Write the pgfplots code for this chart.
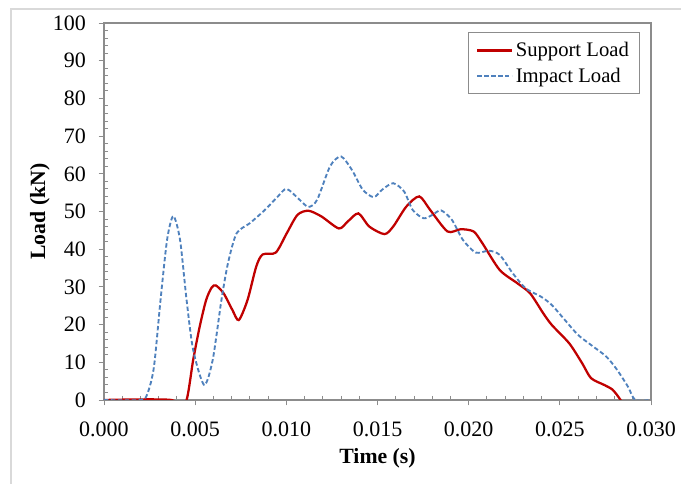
\documentclass[border=0pt]{standalone}
\usepackage{fontspec}
\setmainfont{Liberation Serif}
\usepackage{pgfplots}
\pgfplotsset{compat=1.18}
\definecolor{supp}{HTML}{C00000}
\definecolor{imp}{HTML}{4F81BD}
\definecolor{axgray}{HTML}{8C8C8C}
\definecolor{frame}{HTML}{D9D9D9}
\begin{document}
\begin{tikzpicture}[x=0.75pt,y=0.75pt]
% page = 681 x 484 px, axis origin at px (104,400)
\path[use as bounding box] (-104,-84) rectangle (577,400);
\draw[frame, line width=0.8pt] (-93,-84) -- (-93,391) -- (577,391);
\begin{axis}[
  at={(0,0)}, anchor=origin,
  scale only axis, width=410.25pt, height=282.75pt,
  xmin=0, xmax=0.030, ymin=0, ymax=100,
  xtick={0,0.005,...,0.0301}, ytick={0,10,...,100},
  minor x tick num=4, minor y tick num=4,
  scaled x ticks=false,
  xticklabel style={/pgf/number format/fixed, /pgf/number format/fixed zerofill,
    /pgf/number format/precision=3, yshift=-9pt},
  yticklabel style={xshift=-6pt},
  /pgf/number format/assume math mode=true,
  tick label style={font=\fontsize{16.5}{16.5}\selectfont, text=black},
  tick align=outside, major tick length=4pt, minor tick length=-3pt,
  axis line style={axgray, line width=0.8pt},
  every tick/.style={axgray, line width=0.7pt},
  xtick pos=bottom, ytick pos=left,
  xlabel={\textbf{Time (s)}}, ylabel={\textbf{Load (kN)}},
  label style={font=\fontsize{16.3}{16.3}\selectfont},
  xlabel style={yshift=-2pt},
  ylabel style={yshift=-4.5pt},
  legend style={at={(0.98,0.975)}, anchor=north east, draw=axgray, line width=0.8pt,
    font=\fontsize{15.5}{18}\selectfont, inner xsep=6pt, inner ysep=5pt,
    cells={anchor=west}, row sep=3pt},
  legend image code/.code={\draw[#1] (0pt,0pt) -- (26pt,0pt);},
]
\addplot[supp, line width=1.7pt, smooth, tension=0.45] coordinates {
 (0.0000,0) (0.0037,0) (0.0040,-3) (0.00453,0) (0.00489,10.6) (0.00525,19.5)
 (0.0056,26.5) (0.0059,29.8) (0.00613,30.4) (0.00656,28.3) (0.00704,23.9)
 (0.00739,21.2) (0.00787,26.5) (0.00835,35.4) (0.00870,38.6) (0.00942,39.1)
 (0.01002,44.2) (0.01061,49.1) (0.01121,50.2) (0.01192,48.7) (0.01288,45.5)
 (0.01336,47.3) (0.01395,49.5) (0.01455,46.0) (0.01538,44.0) (0.01586,46.0)
 (0.01658,51.3) (0.01729,54.0) (0.01789,50.4) (0.01884,44.7) (0.01956,45.3)
 (0.02027,44.7) (0.02075,41.6) (0.0217,34.5) (0.02266,31.0) (0.02337,28.3)
 (0.02409,23.0) (0.02456,19.9) (0.02552,15.0) (0.02623,9.7) (0.02671,5.8)
 (0.02743,4.0) (0.0279,2.7) (0.02833,0) (0.0285,-2)
};
\addlegendentry{Support Load}
\addplot[imp, line width=1.4pt, dash pattern=on 3.3pt off 1.9pt, smooth, tension=0.45] coordinates {
 (0,0) (0.0020,0) (0.00239,1.8) (0.00274,8.8) (0.0031,26.5) (0.00346,42.5)
 (0.0038,48.8) (0.00417,42.5) (0.00453,26.5) (0.00489,13.3) (0.00549,4.0)
 (0.00596,10.6) (0.00644,26.5) (0.0068,36.3) (0.00727,44.2) (0.008,46.9)
 (0.00882,50.4) (0.00954,54.0) (0.01002,56.0) (0.01073,53.1) (0.01121,51.2)
 (0.01169,53.1) (0.0124,62.0) (0.013,64.6) (0.0136,61.0) (0.01419,55.8)
 (0.01479,53.8) (0.01526,55.8) (0.01586,57.5) (0.01646,55.3) (0.01693,50.4)
 (0.01753,48.2) (0.01801,49.1) (0.01848,50.3) (0.01908,47.8) (0.01968,42.5)
 (0.02039,39.1) (0.02111,39.6) (0.0217,38.5) (0.02242,33.6) (0.02313,29.6)
 (0.02397,27.4) (0.02456,25.2) (0.02528,21.2) (0.02599,17.3) (0.02671,14.6)
 (0.02755,11.5) (0.02814,8.0) (0.02874,3.5) (0.02914,0) (0.030,0)
};
\addlegendentry{Impact Load}
\end{axis}
\end{tikzpicture}
\end{document}
